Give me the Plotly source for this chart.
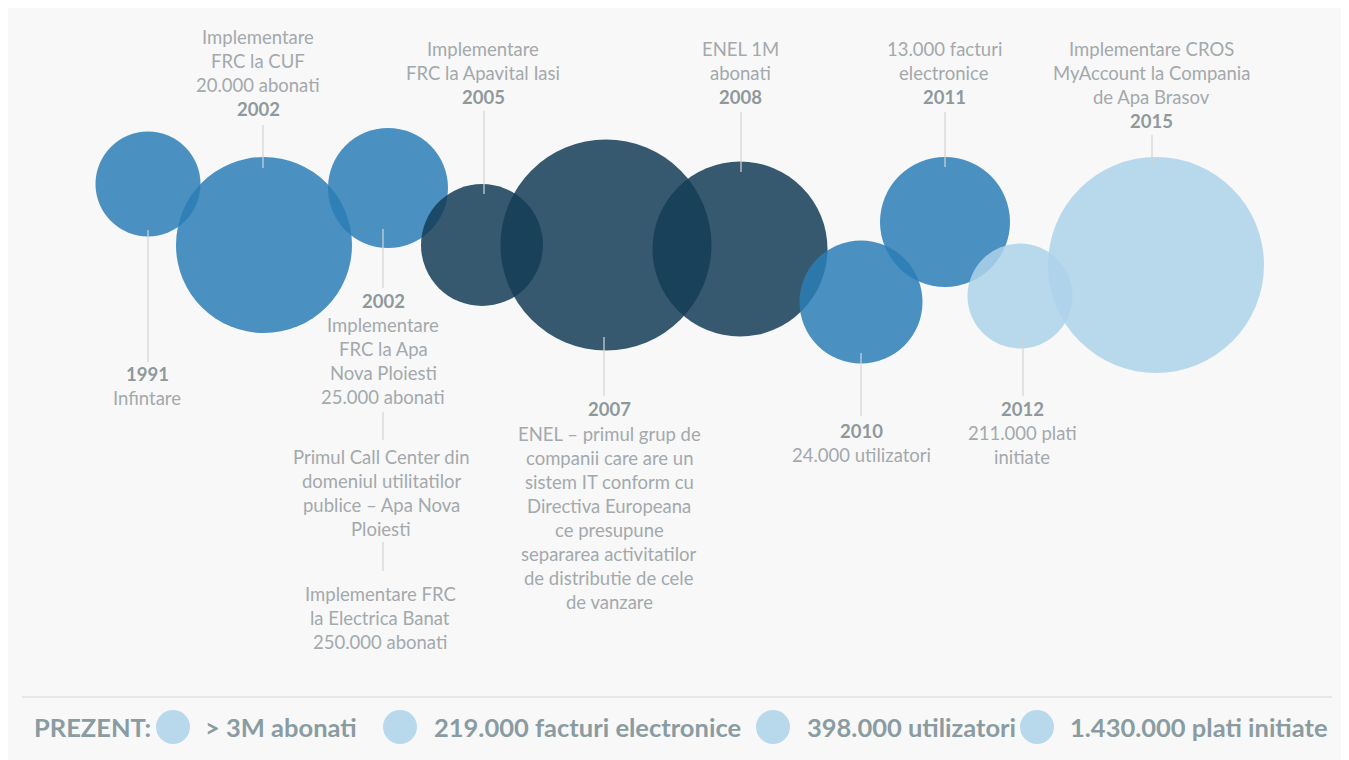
import plotly.graph_objects as go

# ---------------- data ----------------
years = ["1991", "2002", "2002", "2005", "2007", "2008", "2010", "2011", "2012", "2015"]
bubble_weight = [105, 176, 120, 122, 211, 175, 123, 130, 105, 216]
bubble_group = ["mid", "mid", "mid", "dark", "dark", "dark", "mid", "mid", "light", "light"]

label_lines = [
    [["1991", "Infintare"]],
    [["Implementare", "FRC la CUF", "20.000 abonati", "2002"]],
    [["2002", "Implementare", "FRC la Apa", "Nova Ploiesti", "25.000 abonati"],
     ["Primul Call Center din", "domeniul utilitatilor", "publice – Apa Nova", "Ploiesti"],
     ["Implementare FRC", "la Electrica Banat", "250.000 abonati"]],
    [["Implementare", "FRC la Apavital Iasi", "2005"]],
    [["2007", "ENEL – primul grup de", "companii care are un", "sistem IT conform cu",
      "Directiva Europeana", "ce presupune", "separarea activitatilor",
      "de distributie de cele", "de vanzare"]],
    [["ENEL 1M", "abonati", "2008"]],
    [["2010", "24.000 utilizatori"]],
    [["13.000 facturi", "electronice", "2011"]],
    [["2012", "211.000 plati", "initiate"]],
    [["Implementare CROS", "MyAccount la Compania", "de Apa Brasov", "2015"]],
]

legend_title = "PREZENT:"
legend_labels = ["> 3M abonati", "219.000 facturi electronice", "398.000 utilizatori", "1.430.000 plati initiate"]

# ---------------- layout (screen-pixel space; page body has an 8px margin) ----------------
OFF = 8
W, H = 1341, 752
bx = [148, 264, 388, 482, 606, 740, 861, 945, 1020, 1156]
by = [184, 245, 188, 245, 245, 249, 302, 222, 296, 265]
block_pos = [
    [(147, 374)],
    [(258, 37)],
    [(383, 301), (381, 457), (380, 594)],
    [(483, 49)],
    [(609, 409)],
    [(740, 49)],
    [(861, 431)],
    [(944, 49)],
    [(1022, 409)],
    [(1151, 49)],
]
connectors = [
    [(148, 230, 362)],
    [(263, 125, 168)],
    [(383, 229, 288), (383, 412, 440), (383, 542, 571)],
    [(484, 111, 194)],
    [(604, 337, 396)],
    [(741, 112, 172)],
    [(861, 353, 416)],
    [(945, 112, 167)],
    [(1023, 338, 396)],
    [(1152, 135, 168)],
]
group_color = {"mid": "#2b7eb6", "dark": "#143d57", "light": "#add2ea"}
FONT = "Lato"
TXT = "#a3a9ac"
YEAR = "#8f989b"
LEG = "#8a9ca2"
LINE_STEP = 24

fig = go.Figure()

fig.add_trace(go.Scatter(
    x=bx, y=by, mode="markers",
    marker=dict(size=bubble_weight, sizemode="diameter",
                color=[group_color[g] for g in bubble_group],
                opacity=0.85, line=dict(width=0)),
    hoverinfo="text", hovertext=years, showlegend=False,
))

cx, cy = [], []
for segs in connectors:
    for (x, y0, y1) in segs:
        cx += [x, x, None]
        cy += [y0, y1, None]
fig.add_trace(go.Scatter(x=cx, y=cy, mode="lines",
                         line=dict(color="#d4d4d4", width=1.2),
                         hoverinfo="skip", showlegend=False))

annotations = []
for i, blocks in enumerate(label_lines):
    for b, lines in enumerate(blocks):
        x0, y0 = block_pos[i][b]
        y = y0
        for j, ln in enumerate(lines):
            is_year = ln == years[i]
            annotations.append(dict(
                x=x0, y=y, xref="x", yref="y", showarrow=False,
                text=f"<b>{ln}</b>" if is_year else ln,
                font=dict(family=FONT, size=18.5, color=YEAR if is_year else TXT),
                xanchor="center", yanchor="middle"))
            y += LINE_STEP + (1 if (is_year and j == 0 and len(lines) > 5) else 0)

leg_circle_x = [173, 400, 773, 1037]
leg_text_x = [203, 432, 805, 1068]
LEG_Y = 727
fig.add_trace(go.Scatter(
    x=leg_circle_x, y=[LEG_Y] * len(leg_circle_x), mode="markers",
    marker=dict(size=34, color="#b8d8ec", line=dict(width=0)),
    hoverinfo="text", hovertext=legend_labels, showlegend=False))
annotations.append(dict(x=32, y=LEG_Y, xref="x", yref="y", showarrow=False,
                        text=f"<b>{legend_title}</b>", xanchor="left", yanchor="middle",
                        font=dict(family=FONT, size=25.5, color=LEG)))
for tx, lab in zip(leg_text_x, legend_labels):
    annotations.append(dict(x=tx, y=LEG_Y, xref="x", yref="y", showarrow=False,
                            text=f"<b>{lab}</b>", xanchor="left", yanchor="middle",
                            font=dict(family=FONT, size=25.5, color=LEG)))

shapes = [
    dict(type="line", xref="x", yref="y", x0=22, x1=1332, y0=697, y1=697,
         line=dict(color="#e2e2e2", width=1.5), layer="below"),
]

fig.update_layout(
    width=W, height=H, margin=dict(l=0, r=0, t=0, b=0),
    paper_bgcolor="#f8f8f8", plot_bgcolor="rgba(0,0,0,0)",
    xaxis=dict(range=[OFF, OFF + W], visible=False, fixedrange=True),
    yaxis=dict(range=[OFF + H, OFF], visible=False, fixedrange=True),
    annotations=annotations, shapes=shapes,
    hovermode="closest",
)

fig.write_html("out.html", config={"displayModeBar": False})
